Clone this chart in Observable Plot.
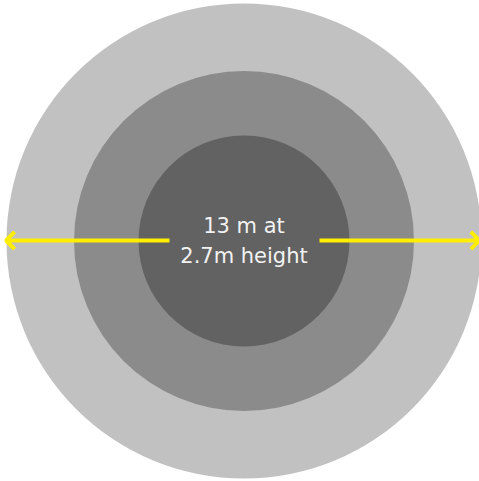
<!DOCTYPE html>
<html>
<head>
<meta charset="utf-8">
<script src="https://cdn.jsdelivr.net/npm/d3@7"></script>
<script src="https://cdn.jsdelivr.net/npm/@observablehq/plot@0.6"></script>
<style>
  html, body { margin: 0; padding: 0; background: #fff; }
  svg { display: block; }
</style>
</head>
<body>
<div id="chart"></div>
<script>
// Rings (radius in px-equivalent data units), drawn outermost first
const ringNames = ["outer", "middle", "inner"];
const ringRadii = [237.5, 170, 105.5];
const ringColors = ["#c1c1c1", "#8b8b8b", "#626262"];

// Dimension arrows (from x1 to x2, at y)
const arrowX1 = [-74.5, 75.5];
const arrowX2 = [-238, 235.5];
const arrowY = [0.5, 0.5];

// Label
const labelText = "13 m at\n2.7m height";

const rings = ringNames.map((n, i) => ({name: n, r: ringRadii[i], color: ringColors[i], x: 0, y: 0}));
const arrows = arrowX1.map((x1, i) => ({x1, x2: arrowX2[i], y: arrowY[i]}));

const plot = Plot.plot({
  width: 479,
  height: 481,
  margin: 0,
  x: {domain: [-243.5, 235.5], range: [0, 479], axis: null},
  y: {domain: [240.5, -240.5], range: [0, 481], axis: null},
  r: {type: "identity"},
  style: {background: "#fff"},
  marks: [
    Plot.dot(rings, {x: "x", y: "y", r: "r", fill: "color", stroke: null}),
    Plot.arrow(arrows, {x1: "x1", x2: "x2", y1: "y", y2: "y", stroke: "#ffee00", strokeWidth: 4, headLength: 4.6, headAngle: 90, bend: 0, strokeLinecap: "butt"}),
    Plot.text([labelText], {x: 0, y: 2.5, text: d => d, fill: "#f2f2f2", fontSize: 21, lineHeight: 1.4, fontFamily: "DejaVu Sans", fontWeight: 400, textAnchor: "middle"})
  ]
});
document.getElementById("chart").appendChild(plot);
</script>
</body>
</html>
